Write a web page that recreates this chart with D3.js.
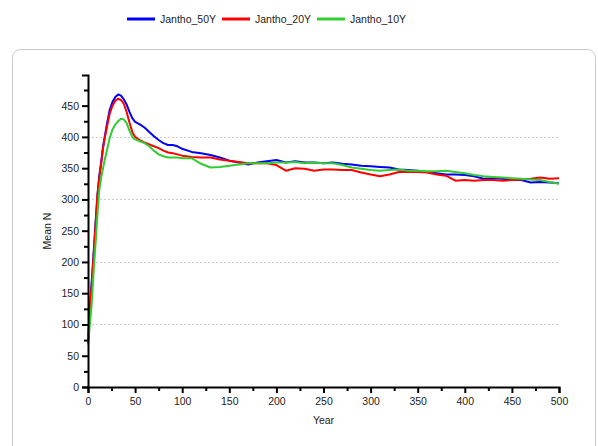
<!DOCTYPE html>
<html>
<head>
<meta charset="utf-8">
<script src="https://cdn.jsdelivr.net/npm/d3@7"></script>
<style>
html,body{margin:0;padding:0;background:#fff;}
svg{display:block;font-family:"Liberation Sans",Arial,sans-serif;}
</style>
</head>
<body>
<svg id="chart" width="598" height="446"></svg>
<script>
const years = [0,2,4,6,8,10,12,14,16,18,20,23,26,29,32,35,38,41,44,47,50,55,60,65,70,75,80,85,90,95,100,
  110,120,130,140,150,160,170,180,190,200,210,220,230,240,250,260,270,280,290,300,
  310,320,330,340,350,360,370,380,390,400,410,420,430,440,450,460,470,480,490,500];
const jantho50 = [70,128,170,215,262,305,338,360,385,402,420,443,456,464,468,466,460,452,440,430,424,420,415,408,401,395,390,387,387,385,381,
  376,374,371,367,362,359,356,359,361,363,359,361,359,359,358,359,357,356,354,353,
  352,351,348,347,346,344,342,340,340,339,337,333,334,333,331,331,327,328,327,326];
const jantho20 = [70,125,165,210,258,308,335,357,382,400,415,437,450,458,461,459,453,440,423,408,400,395,391,388,385,382,378,375,374,372,370,
  368,367,367,364,362,360,358,358,358,355,346,350,349,346,348,348,347,347,343,340,
  337,340,344,344,344,343,340,338,330,331,330,331,331,330,331,332,333,335,333,334];
const jantho10 = [68,100,135,185,228,275,315,335,350,365,378,398,412,420,425,429,428,422,410,400,396,393,390,385,378,372,369,367,367,367,366,
  366,357,351,352,354,356,358,358,358,359,359,360,358,359,358,358,355,351,349,347,
  346,347,348,346,346,345,345,346,344,342,339,337,336,335,334,333,332,331,328,325];
const seriesNames = ["Jantho_50Y","Jantho_20Y","Jantho_10Y"];
const seriesColors = ["#0000ff","#ff0000","#32cd32"];
const seriesValues = [jantho50, jantho20, jantho10];
const yTicks = [0,50,100,150,200,250,300,350,400,450];
const xTicks = [0,50,100,150,200,250,300,350,400,450,500];

const svg = d3.select("#chart");
const x0 = 88, x1 = 559, yB = 387, yT = 75;
const x = d3.scaleLinear().domain([0,500]).range([x0,x1]);
const y = d3.scaleLinear().domain([0,499]).range([yB,yT]);

// panel
svg.append("rect").attr("x",12.5).attr("y",49.5).attr("width",583).attr("height",440)
  .attr("rx",8).attr("fill","#fff").attr("stroke","#c8c8c8").attr("stroke-width",1);

// gridlines
svg.append("g").selectAll("line").data([100,200,300,400]).join("line")
  .attr("x1",x0).attr("x2",x1).attr("y1",d=>Math.round(y(d))+0.5).attr("y2",d=>Math.round(y(d))+0.5)
  .attr("stroke","#cfcfcf").attr("stroke-dasharray","2,2").attr("stroke-width",1);

// lines
const line = d3.line().x((d,i)=>x(years[i])).y(d=>y(d));
seriesValues.forEach((vals,k)=>{
  svg.append("path").datum(vals).attr("d",line).attr("fill","none")
    .attr("stroke",seriesColors[k]).attr("stroke-width",2).attr("stroke-linejoin","round");
});

// axes
const fs = "10.5px";
const yAxis = d3.axisLeft(y).tickValues(yTicks).tickSize(6).tickPadding(3).tickFormat(d3.format("d"));
const gy = svg.append("g").attr("transform",`translate(${x0},0)`).call(yAxis);
const yMinor = d3.axisLeft(y).tickValues(d3.range(25,500,50)).tickSize(4).tickFormat("");
const gym = svg.append("g").attr("transform",`translate(${x0},0)`).call(yMinor);
const xAxis = d3.axisBottom(x).tickValues(xTicks).tickSize(6).tickPadding(5).tickFormat(d3.format("d"));
const gx = svg.append("g").attr("transform",`translate(0,${yB})`).call(xAxis);
const xMinor = d3.axisBottom(x).tickValues(d3.range(25,500,50)).tickSize(4).tickFormat("");
const gxm = svg.append("g").attr("transform",`translate(0,${yB})`).call(xMinor);
[gy,gym,gx,gxm].forEach(g=>{
  g.selectAll(".domain").attr("stroke","#000").attr("stroke-width",2);
  g.selectAll(".tick line").attr("stroke","#000").attr("stroke-width",2);
  g.selectAll("text").attr("font-size",fs).attr("fill","#222").attr("font-family","Liberation Sans, Arial, sans-serif");
});
gym.select(".domain").remove(); gxm.select(".domain").remove();

// axis titles
svg.append("text").attr("x",323.5).attr("y",424).attr("text-anchor","middle")
  .attr("font-size",fs).attr("fill","#222").text("Year");
svg.append("text").attr("transform","translate(51,231) rotate(-90)").attr("text-anchor","middle")
  .attr("font-size",fs).attr("fill","#222").text("Mean N");

// legend
const legX = [127,222,317];
seriesNames.forEach((n,k)=>{
  svg.append("line").attr("x1",legX[k]).attr("x2",legX[k]+28).attr("y1",19).attr("y2",19)
    .attr("stroke",seriesColors[k]).attr("stroke-width",3);
  svg.append("text").attr("x",legX[k]+33).attr("y",23).attr("font-size",fs).attr("fill","#222").text(n);
});
</script>
</body>
</html>
